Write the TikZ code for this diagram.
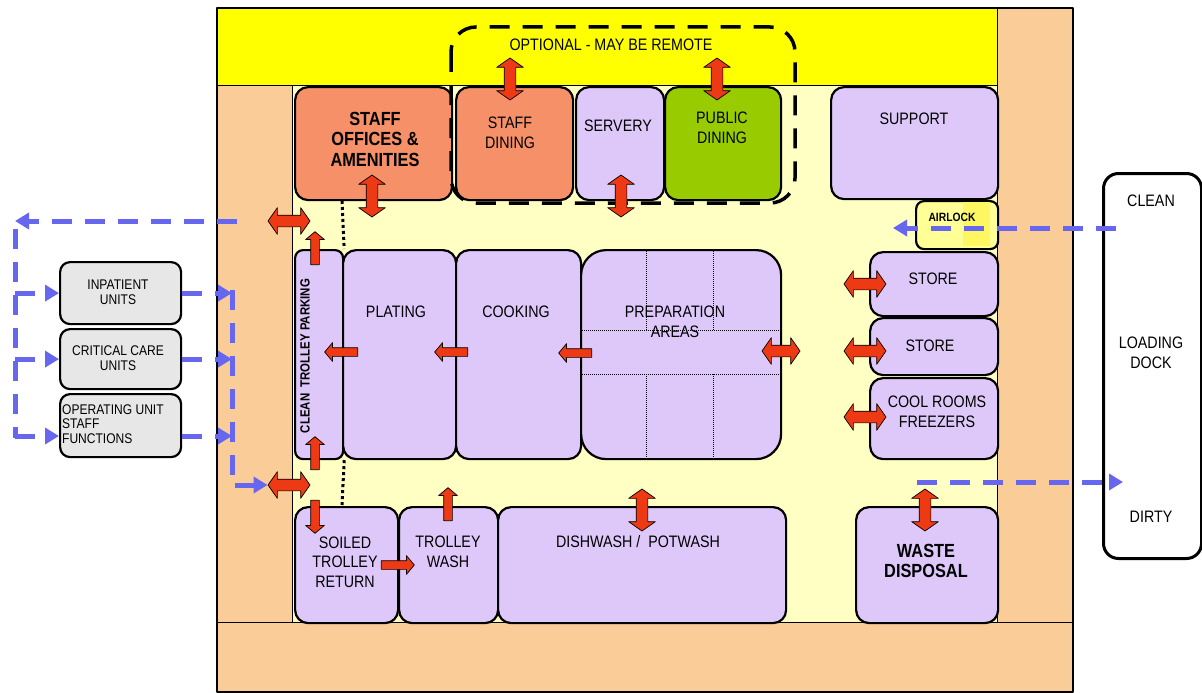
\documentclass[tikz,border=0pt]{standalone}
\usepackage{fontspec}
\setmainfont[FakeStretch=0.86]{Liberation Sans}
\usetikzlibrary{arrows.meta,shapes.arrows,positioning}

\definecolor{lav}{RGB}{222,200,250}
\definecolor{salmon}{RGB}{246,144,104}
\definecolor{grassgreen}{RGB}{153,204,0}
\definecolor{peach}{RGB}{250,204,152}
\definecolor{floorylw}{RGB}{255,255,196}
\definecolor{bandylw}{RGB}{255,255,0}
\definecolor{airlockylw}{RGB}{255,255,150}
\definecolor{unitgrey}{RGB}{231,231,231}
\definecolor{flowblue}{RGB}{102,102,238}
\definecolor{arrowred}{RGB}{238,58,20}

\tikzset{
  room/.style={draw=black, line width=2.2pt, rounded corners=13pt, fill=lav, anchor=north west, inner sep=0pt},
  unitbox/.style={room, fill=unitgrey, rounded corners=10pt},
  lbl/.style={align=center, inner sep=0pt, font=\fontsize{16.6}{19.5}\selectfont},
  biglbl/.style={lbl, font=\bfseries\fontsize{19}{20.5}\selectfont},
  unitlbl/.style={lbl, font=\fontsize{14}{14.5}\selectfont},
  dblarrow/.style={double arrow, draw=black, line width=0.7pt, fill=arrowred, inner sep=5.5pt,
    double arrow head extend=7.5pt, double arrow tip angle=110, minimum height=42pt},
  sglarrow/.style={single arrow, draw=black, line width=0.7pt, fill=arrowred, inner sep=4pt,
    single arrow head extend=5pt, single arrow tip angle=100, minimum height=33pt},
  flow/.style={draw=flowblue, line width=5pt, dash pattern=on 20pt off 13pt},
  flowtip/.style={-{Triangle[length=14pt,width=16pt]}},
}

\begin{document}
\begin{tikzpicture}[x=1pt, y=-1pt, line join=round]
  \useasboundingbox (0,0) rectangle (1202,693);
  \fill[peach] (217,8) rectangle (1073,692);
  \fill[bandylw] (217,8) rectangle (997,85);
  \fill[floorylw] (292,85) rectangle (997,622);
  \draw[line width=1pt] (217,85) -- (997,85) (292,85) -- (292,622) (997,8) -- (997,622) (217,622) -- (1073,622);
  \draw[line width=1.2pt] (217,8) rectangle (1073,692);
  \node[lbl] (opttxt) at (611,45) {OPTIONAL - MAY BE REMOTE};

  \node[room, fill=salmon, minimum width=157, minimum height=113] (offices) at (294,86) {};
  \node[room, fill=salmon, minimum width=117, minimum height=113] (stdining) at (455,86) {};
  \node[room, minimum width=88, minimum height=113] (servery) at (575,86) {};
  \node[room, fill=grassgreen, minimum width=116, minimum height=113] (pubdining) at (664,86) {};
  \node[room, minimum width=167, minimum height=112] (support) at (830,86) {};
  \node[room, fill=airlockylw, rounded corners=8pt, minimum width=82, minimum height=48] (airlock) at (915,200) {};
  \fill[yellow!35!airlockylw] (963,202) rectangle (990,246);
  \node[room, minimum width=128, minimum height=64] (store1) at (869,251) {};
  \node[room, minimum width=128, minimum height=57] (store2) at (869,317) {};
  \node[room, minimum width=128, minimum height=81] (coolrooms) at (869,377) {};
  \node[room, rounded corners=8pt, minimum width=48, minimum height=209] (parking) at (294,249) {};
  \node[room, minimum width=113, minimum height=209] (plating) at (342,249) {};
  \node[room, minimum width=125, minimum height=209] (cooking) at (455,249) {};
  \node[room, rounded corners=25pt, minimum width=200, minimum height=209] (prep) at (580,249) {};
  \node[room, minimum width=103, minimum height=116] (soiled) at (294,506) {};
  \node[room, minimum width=99, minimum height=116] (wash) at (398,506) {};
  \node[room, minimum width=288, minimum height=116] (dishwash) at (497,506) {};
  \node[room, minimum width=142, minimum height=116] (waste) at (855,506) {};
  \node[unitbox, minimum width=121, minimum height=62] (inpatient) at (59,261) {};
  \node[unitbox, minimum width=121, minimum height=60] (critical) at (59,328) {};
  \node[unitbox, minimum width=121, minimum height=63] (oper) at (59,393) {};
  \node[room, fill=white, line width=3pt, rounded corners=15pt, minimum width=98, minimum height=385] (dock) at (1102,172) {};

  \draw[line width=3.5pt, dash pattern=on 20pt off 13pt, rounded corners=25pt] (451,27) rectangle (795,203);
  \draw[line width=3pt, dash pattern=on 3pt off 3pt] (342,201) -- (parking.north east) (parking.south east) -- (342,505);
  \draw[line width=1pt, densely dotted] (646,249) -- (646,330) (713,249) -- (713,330) (580,330) -- (780,330)
    (580,374) -- (780,374) (646,374) -- (646,458) (713,374) -- (713,458);

  \node[biglbl] (offtxt) at (375,139) {STAFF\\OFFICES \&\\AMENITIES};
  \node[lbl] (stdtxt) at (510,133) {STAFF\\DINING};
  \node[lbl] (servtxt) at (618,126) {SERVERY};
  \node[lbl] (pubtxt) at (722,128) {PUBLIC\\DINING};
  \node[lbl] (suptxt) at (914,119) {SUPPORT};
  \node[lbl, font=\bfseries\fontsize{12}{12}\selectfont] (airtxt) at (952,217) {AIRLOCK};
  \node[lbl] (st1txt) at (933,279) {STORE};
  \node[lbl] (st2txt) at (930,346) {STORE};
  \node[lbl] (cooltxt) at (937,412) {COOL ROOMS\\FREEZERS};
  \node[lbl, font=\bfseries\fontsize{13.3}{14}\selectfont, rotate=90] (parktxt) at (305,356) {CLEAN\ \ TROLLEY PARKING};
  \node[lbl] (platetxt) at (396,312) {PLATING};
  \node[lbl] (cooktxt) at (516,312) {COOKING};
  \node[lbl] (preptxt) at (675,322) {PREPARATION\\AREAS};
  \node[lbl] (soiltxt) at (345,562) {SOILED\\TROLLEY\\RETURN};
  \node[lbl] (washtxt) at (448,552) {TROLLEY\\WASH};
  \node[lbl] (dishtxt) at (638,542) {DISHWASH /\ \ POTWASH};
  \node[biglbl] (wastetxt) at (926,561) {WASTE\\DISPOSAL};
  \node[unitlbl] (inptxt) at (118,292) {INPATIENT\\UNITS};
  \node[unitlbl] (crittxt) at (118,358) {CRITICAL CARE\\UNITS};
  \node[unitlbl, align=left, anchor=west] (opertxt) at (62,424) {OPERATING UNIT\\STAFF\\FUNCTIONS};
  \node[lbl] (cleantxt) at (1151,201) {CLEAN};
  \node[lbl] (docktxt) at (1151,353) {LOADING\\DOCK};
  \node[lbl] (dirtytxt) at (1151,517) {DIRTY};

  \node[dblarrow, rotate=90] (a1) at (510,79) {};
  \node[dblarrow, rotate=90] (a2) at (717,79) {};
  \node[dblarrow, rotate=90] (a3) at (372,196) {};
  \node[dblarrow, rotate=90] (a4) at (621,196) {};
  \node[dblarrow] (wallTop) at (289,221) {};
  \node[dblarrow] (wallBot) at (289,485) {};
  \node[sglarrow, rotate=90] (a5) at (315,250) {};
  \node[sglarrow, rotate=90] (a6) at (315,455) {};
  \node[sglarrow, rotate=-90] (a7) at (315,515) {};
  \node[sglarrow, rotate=180] (a8) at (343,352) {};
  \node[sglarrow, rotate=180] (a9) at (453,352) {};
  \node[sglarrow, rotate=180] (a10) at (577,353) {};
  \node[dblarrow, minimum height=38pt] (a11) at (781,351) {};
  \node[dblarrow] (a12) at (865,284) {};
  \node[dblarrow] (a13) at (865,351) {};
  \node[dblarrow] (a14) at (865,417) {};
  \node[sglarrow] (a15) at (396,565) {};
  \node[sglarrow, rotate=90] (a16) at (448,506) {};
  \node[dblarrow, rotate=90] (a17) at (642,510) {};
  \node[dblarrow, rotate=90] (a18) at (925,510) {};

  \coordinate (exitL) at (237,221);
  \coordinate (cornerTL) at (15,221);
  \coordinate (busLtop) at (15,229);
  \coordinate (busLbot) at (15,438);
  \coordinate (busRtop) at (232,290);
  \coordinate (busRbot) at (232,485);
  \coordinate (dockClean) at (1116,228);
  \coordinate (clean end) at (893,228);
  \coordinate (dirtyStart) at (917,482);
  \coordinate (dirtyEnd) at (1123,482);
  \draw[flow, flowtip] (exitL) -- (cornerTL);
  \draw[flow] (busLtop) -- (busLbot);
  \draw[flow, flowtip] (busLtop |- inpatient.west) -- (inpatient.west);
  \draw[flow, flowtip] (busLtop |- critical.west) -- (critical.west);
  \draw[flow, flowtip] (busLtop |- 0,436) -- (oper.west |- 0,436);
  \draw[flow, flowtip] (inpatient.east) -- (busRtop |- inpatient.east);
  \draw[flow, flowtip] (critical.east) -- (busRtop |- critical.east);
  \draw[flow, flowtip] (oper.east |- 0,436) -- (busRtop |- 0,436);
  \draw[flow, flowtip] (busRtop) -- (busRbot) -- (wallBot.west);
  \draw[flow, flowtip] (dockClean) -- (clean end);
  \draw[flow, flowtip] (dirtyStart) -- (dirtyEnd);
\end{tikzpicture}
\end{document}
